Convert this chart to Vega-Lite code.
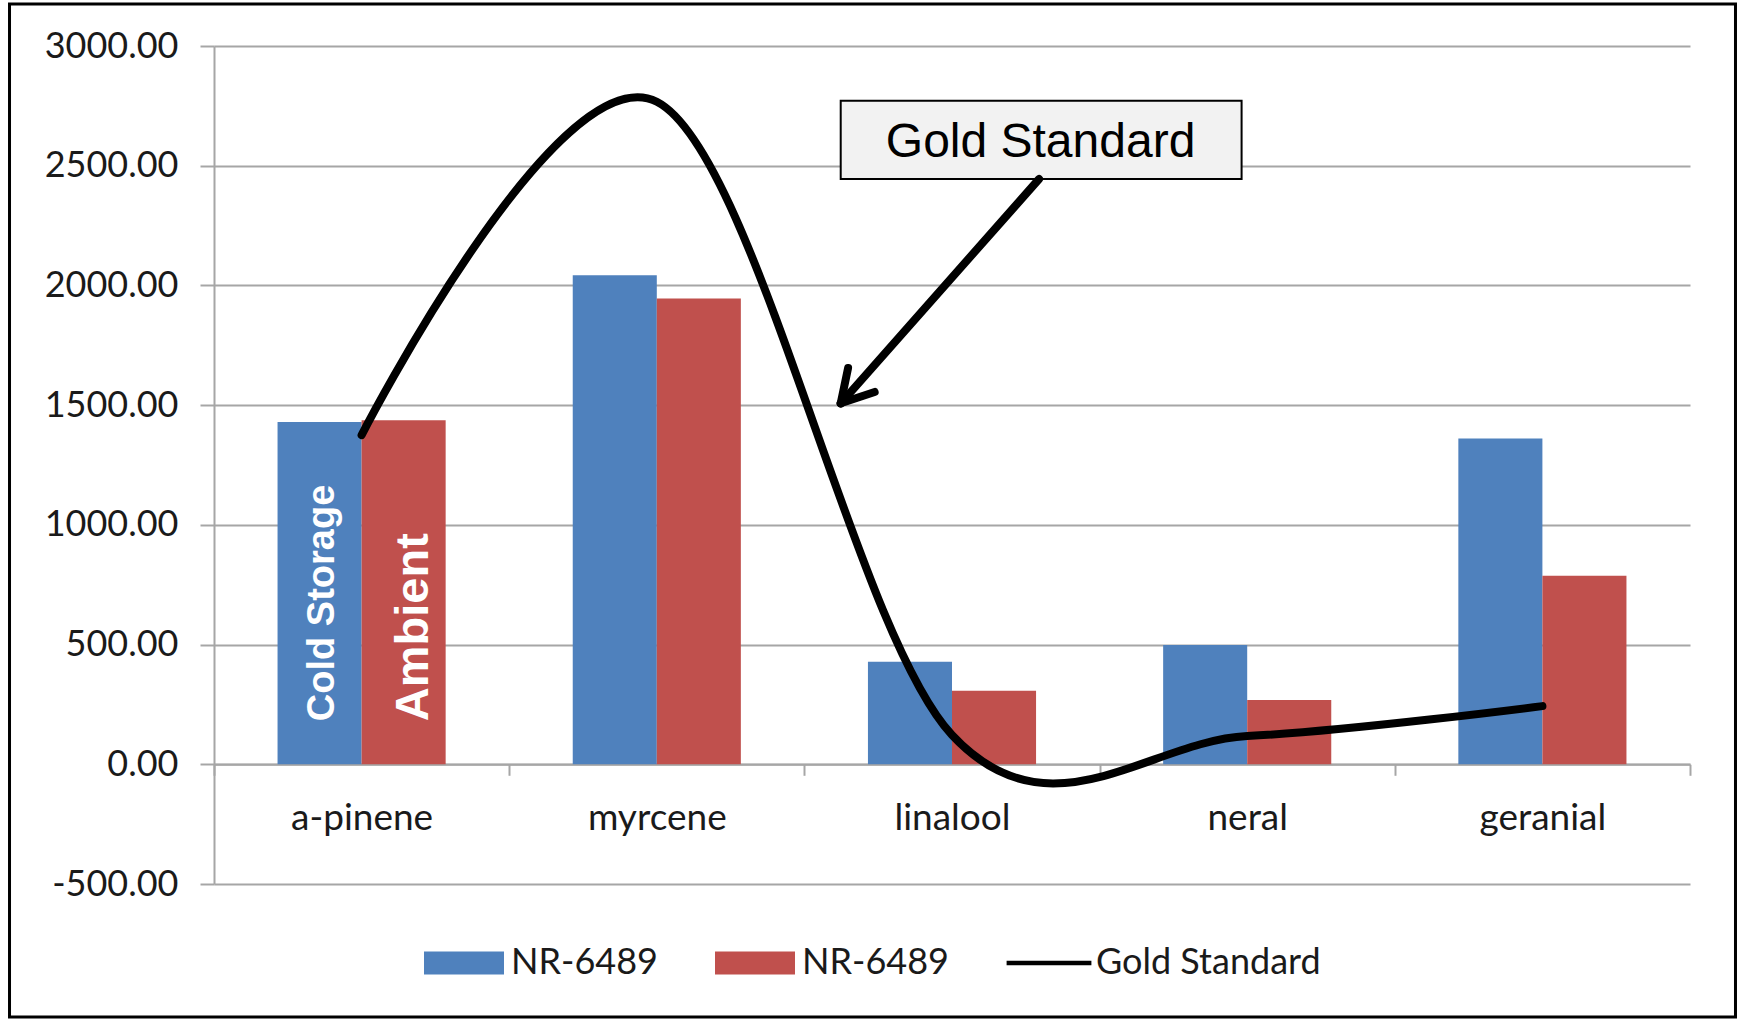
{
  "$schema": "https://vega.github.io/schema/vega-lite/v6.json",
  "width": 1476,
  "height": 838,
  "autosize": {"type": "none"},
  "padding": {"left": 214, "top": 46, "right": 51, "bottom": 136},
  "background": "white",
  "config": {"view": {"stroke": null}, "font": "Lato"},
  "datasets": {
    "bars": [
      {"compound": "a-pinene", "series": "Cold Storage", "value": 1430, "label": "Cold Storage"},
      {"compound": "a-pinene", "series": "Ambient", "value": 1437, "label": "Ambient"},
      {"compound": "myrcene", "series": "Cold Storage", "value": 2042},
      {"compound": "myrcene", "series": "Ambient", "value": 1945},
      {"compound": "linalool", "series": "Cold Storage", "value": 428},
      {"compound": "linalool", "series": "Ambient", "value": 307},
      {"compound": "neral", "series": "Cold Storage", "value": 498},
      {"compound": "neral", "series": "Ambient", "value": 268},
      {"compound": "geranial", "series": "Cold Storage", "value": 1361},
      {"compound": "geranial", "series": "Ambient", "value": 787}
    ],
    "gold": [
      {"compound": "a-pinene", "series": "Gold Standard", "value": 1375},
      {"compound": "myrcene", "series": "Gold Standard", "value": 2767},
      {"compound": "linalool", "series": "Gold Standard", "value": 122},
      {"compound": "neral", "series": "Gold Standard", "value": 118},
      {"compound": "geranial", "series": "Gold Standard", "value": 243}
    ]
  },
  "layer": [
    {
      "layer": [
        {
          "data": {"name": "bars"},
          "mark": {"type": "bar"},
          "encoding": {
            "x": {
              "field": "compound", "type": "nominal",
              "sort": ["a-pinene", "myrcene", "linalool", "neral", "geranial"],
              "scale": {"paddingInner": 0, "paddingOuter": 0},
              "axis": {
                "title": null, "offset": -119.7, "labelAngle": 0,
                "domainColor": "#a6a6a6", "domainWidth": 2,
                "tickColor": "#a6a6a6", "tickWidth": 2, "tickSize": 11, "tickBand": "extent",
                "labelFont": "Lato", "labelFontSize": 37, "labelColor": "#1a1a1a", "labelPadding": 25,
                "grid": false
              }
            },
            "xOffset": {
              "field": "series", "type": "nominal",
              "scale": {"domain": ["Cold Storage", "Ambient"], "paddingInner": 0, "paddingOuter": 0.756}
            },
            "y": {
              "field": "value", "type": "quantitative",
              "scale": {"domain": [-500, 3000], "nice": false, "zero": false},
              "axis": {
                "title": null, "values": [-500, 0, 500, 1000, 1500, 2000, 2500, 3000],
                "labelExpr": "replace(format(datum.value, '.2f'), '\u2212', '-')",
                "grid": true, "gridColor": "#a6a6a6", "gridWidth": 2,
                "domainColor": "#a6a6a6", "domainWidth": 2,
                "tickColor": "#a6a6a6", "tickWidth": 2, "tickSize": 14,
                "labelPadding": 22, "labelFont": "Lato", "labelFontSize": 36, "labelColor": "#1a1a1a"
              }
            },
            "color": {
              "field": "series", "type": "nominal",
              "scale": {"domain": ["Cold Storage", "Ambient", "Gold Standard"], "range": ["#4f81bd", "#c0504d", "#000000"]},
              "legend": {
                "title": null, "orient": "none", "legendX": 210, "legendY": 877,
                "direction": "horizontal", "columnPadding": 57, "labelOffset": 7, "padding": 0,
                "labelFont": "Lato", "labelFontSize": 36, "labelColor": "#1a1a1a", "labelLimit": 400,
                "symbolSize": 6400,
                "labelExpr": "datum.value === 'Gold Standard' ? 'Gold Standard' : 'NR-6489'",
                "encode": {
                  "symbols": {
                    "update": {
                      "shape": {"signal": "datum.value === 'Gold Standard' ? 'M-1.06,-0.056H1.06V0.056H-1.06Z' : 'M-1,-0.29H1V0.29H-1Z'"},
                      "fill": {"signal": "datum.value === 'Gold Standard' ? '#000000' : (datum.value === 'Ambient' ? '#c0504d' : '#4f81bd')"},
                      "stroke": {"value": "transparent"},
                      "strokeWidth": {"value": 0},
                      "opacity": {"value": 1}
                    }
                  }
                }
              }
            }
          }
        },
        {
          "data": {"name": "gold"},
          "mark": {"type": "line", "interpolate": "cardinal", "tension": 0, "strokeWidth": 8, "strokeCap": "round"},
          "encoding": {
            "x": {"field": "compound", "type": "nominal", "sort": ["a-pinene", "myrcene", "linalool", "neral", "geranial"]},
            "y": {"field": "value", "type": "quantitative"},
            "color": {"field": "series", "type": "nominal"}
          }
        },
        {
          "data": {"name": "bars"},
          "transform": [{"filter": "datum.label === 'Cold Storage'"}],
          "mark": {"type": "text", "angle": 270, "align": "left", "baseline": "middle", "dy": 3, "font": "Liberation Sans", "fontWeight": "bold", "fontSize": 38, "color": "white"},
          "encoding": {
            "x": {"field": "compound", "type": "nominal", "sort": ["a-pinene", "myrcene", "linalool", "neral", "geranial"]},
            "xOffset": {"field": "series", "type": "nominal"},
            "y": {"datum": 180, "type": "quantitative"},
            "text": {"field": "label"}
          }
        },
        {
          "data": {"name": "bars"},
          "transform": [{"filter": "datum.label === 'Ambient'"}],
          "mark": {"type": "text", "angle": 270, "align": "left", "baseline": "middle", "dy": 10, "font": "Liberation Sans", "fontWeight": "bold", "fontSize": 47, "color": "white"},
          "encoding": {
            "x": {"field": "compound", "type": "nominal", "sort": ["a-pinene", "myrcene", "linalool", "neral", "geranial"]},
            "xOffset": {"field": "series", "type": "nominal"},
            "y": {"datum": 180, "type": "quantitative"},
            "text": {"field": "label"}
          }
        }
      ]
    },
    {
      "data": {"values": [{}]},
      "layer": [
        {
          "mark": {"type": "rect", "fill": null, "fillOpacity": 0, "stroke": "#000000", "strokeWidth": 3},
          "encoding": {
            "x": {"datum": -0.6927, "type": "quantitative", "scale": {"domain": [0, 5], "nice": false, "zero": false}, "axis": null},
            "x2": {"datum": 5.1541},
            "y": {"datum": 3175.4, "type": "quantitative"},
            "y2": {"datum": -1055.5}
          }
        },
        {
          "mark": {"type": "rect", "fill": "#f2f2f2", "stroke": "#000000", "strokeWidth": 2},
          "encoding": {
            "x": {"datum": 2.123, "type": "quantitative", "axis": null},
            "x2": {"datum": 3.481},
            "y": {"datum": 2771.5, "type": "quantitative"},
            "y2": {"datum": 2444.5}
          }
        },
        {
          "mark": {"type": "text", "font": "Liberation Sans", "fontSize": 48, "color": "#000000", "align": "center", "baseline": "alphabetic"},
          "encoding": {
            "x": {"datum": 2.8, "type": "quantitative", "axis": null},
            "y": {"datum": 2535, "type": "quantitative"},
            "text": {"value": "Gold Standard"}
          }
        },
        {
          "mark": {"type": "rule", "color": "#000000", "strokeWidth": 8, "strokeCap": "round"},
          "encoding": {
            "x": {"datum": 2.795, "type": "quantitative", "axis": null},
            "x2": {"datum": 2.123},
            "y": {"datum": 2444.5, "type": "quantitative"},
            "y2": {"datum": 1507.6}
          }
        },
        {
          "mark": {"type": "rule", "color": "#000000", "strokeWidth": 8, "strokeCap": "round"},
          "encoding": {
            "x": {"datum": 2.148, "type": "quantitative", "axis": null},
            "x2": {"datum": 2.123},
            "y": {"datum": 1655, "type": "quantitative"},
            "y2": {"datum": 1507.6}
          }
        },
        {
          "mark": {"type": "rule", "color": "#000000", "strokeWidth": 8, "strokeCap": "round"},
          "encoding": {
            "x": {"datum": 2.238, "type": "quantitative", "axis": null},
            "x2": {"datum": 2.123},
            "y": {"datum": 1555, "type": "quantitative"},
            "y2": {"datum": 1507.6}
          }
        }
      ]
    }
  ],
  "resolve": {"scale": {"x": "independent"}}
}
